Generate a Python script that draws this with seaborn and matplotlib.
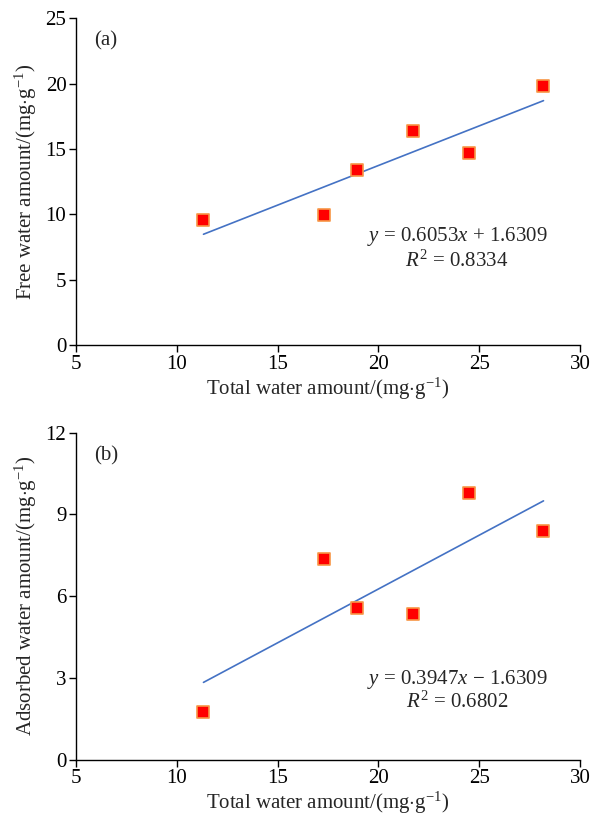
import numpy as np
import pandas as pd
import seaborn as sns
import matplotlib.pyplot as plt

# values (mg/g)
total_water = [11.32, 17.30, 18.96, 21.72, 24.48, 28.19]
free_water = [9.56, 9.94, 13.38, 16.36, 14.68, 19.80]
adsorbed_water = [1.76, 7.36, 5.58, 5.36, 9.80, 8.39]

# fitted lines as printed on the chart
fit_a = (0.6053, 1.6309)
fit_b = (0.3947, -1.6309)
eq_a = ["$y$ = 0.6053$x$ + 1.6309", "$R^2$ = 0.8334"]
eq_b = ["$y$ = 0.3947$x$ \u2212 1.6309", "$R^2$ = 0.6802"]

sns.set_theme(style="ticks")
plt.rcParams["font.family"] = ["Liberation Serif", "DejaVu Serif"]
plt.rcParams["mathtext.fontset"] = "custom"
plt.rcParams["mathtext.rm"] = "Liberation Serif"
plt.rcParams["mathtext.it"] = "Liberation Serif:italic"

df = pd.DataFrame({"total": total_water, "free": free_water, "adsorbed": adsorbed_water})

fig = plt.figure(figsize=(5.9, 8.24), dpi=100)
ax_a = fig.add_axes([0.129, 0.581, 0.854, 0.397])
ax_b = fig.add_axes([0.129, 0.078, 0.854, 0.397])

xlab = "Total water amount/(mg$\\cdot$g$^{-1}$)"
fs = 15


def panel(ax, ycol, fit, eq, ylim, yticks, ylabel, tag, eq_pos):
    xs = np.array([df["total"].min(), df["total"].max()])
    line = pd.DataFrame({"x": xs, "y": fit[0] * xs + fit[1]})
    sns.lineplot(data=line, x="x", y="y", ax=ax, color="#4472C4", linewidth=1.2)
    sns.scatterplot(data=df, x="total", y=ycol, ax=ax, marker="s", s=65,
                    color="#FF0000", edgecolor="#F79646", linewidth=1.2, zorder=3)
    ax.set_xlim(5, 30)
    ax.set_ylim(*ylim)
    ax.set_xticks([5, 10, 15, 20, 25, 30])
    ax.set_yticks(yticks)
    ax.set_xlabel(xlab, fontsize=fs, labelpad=1)
    ax.set_ylabel(ylabel, fontsize=fs, labelpad=5)
    ax.tick_params(labelsize=fs, direction="out", length=5, width=1, pad=2, colors="black")
    for s in ["left", "bottom"]:
        ax.spines[s].set_color("black")
        ax.spines[s].set_linewidth(1)
    sns.despine(ax=ax)
    ax.text(0.035, 0.93, tag, transform=ax.transAxes, fontsize=fs, va="center")
    ax.text(eq_pos[0], eq_pos[1], eq[0], fontsize=fs, ha="center", va="center")
    ax.text(eq_pos[0], eq_pos[2], eq[1], fontsize=fs, ha="center", va="center")


panel(ax_a, "free", fit_a, eq_a, (0, 25), [0, 5, 10, 15, 20, 25],
      "Free water amount/(mg$\\cdot$g$^{-1}$)", "(a)", (23.9, 8.3, 6.4))
panel(ax_b, "adsorbed", fit_b, eq_b, (0, 12), [0, 3, 6, 9, 12],
      "Adsorbed water amount/(mg$\\cdot$g$^{-1}$)", "(b)", (23.9, 2.95, 2.1))

fig.savefig("out.png", dpi=100)
